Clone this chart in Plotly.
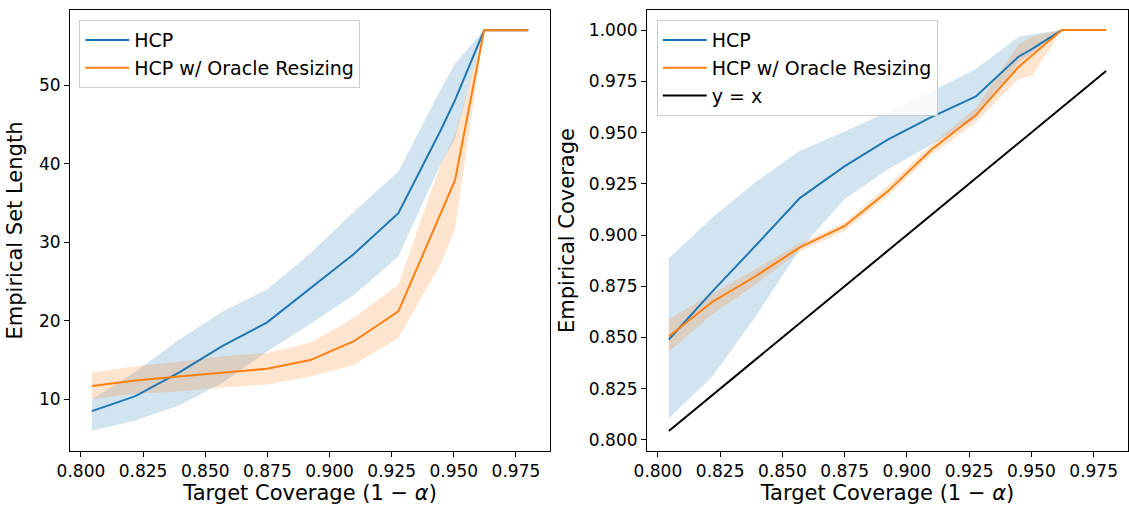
import plotly.graph_objects as go

# Target coverage levels (1 - alpha)
target = [0.8044, 0.8219, 0.8394, 0.8570, 0.8749, 0.8923, 0.9098, 0.9277, 0.9448, 0.9505, 0.9622, 0.9800]

# Empirical set length: mean and spread
len_hcp = [8.5, 10.4, 13.4, 16.8, 19.8, 24.1, 28.5, 33.7, 44.3, 48.1, 57.0, 57.0]
len_hcp_lo = [6.0, 7.3, 9.2, 12.1, 16.1, 19.6, 23.3, 28.2, 40.0, 43.2, 57.0, 57.0]
len_hcp_hi = [10.0, 13.5, 17.6, 21.2, 24.0, 28.6, 33.9, 39.0, 49.5, 52.8, 57.0, 57.0]
len_orc = [11.7, 12.4, 12.9, 13.4, 13.9, 15.0, 17.4, 21.2, 33.9, 37.9, 57.0, 57.0]
len_orc_lo = [10.0, 10.7, 11.0, 11.5, 11.9, 12.9, 14.4, 17.8, 27.3, 31.7, 57.0, 57.0]
len_orc_hi = [13.4, 14.2, 14.8, 15.5, 15.9, 17.2, 20.4, 24.6, 40.0, 43.6, 57.0, 57.0]

# Empirical coverage: mean and spread
cov_hcp = [0.849, 0.8725, 0.895, 0.918, 0.9335, 0.9465, 0.9575, 0.9676, 0.987, 0.991, 1.0, 1.0]
cov_hcp_lo = [0.8106, 0.831, 0.8605, 0.893, 0.9175, 0.932, 0.944, 0.957, 0.984, 0.989, 1.0, 1.0]
cov_hcp_hi = [0.8886, 0.9085, 0.926, 0.941, 0.9505, 0.960, 0.970, 0.981, 0.9967, 0.998, 1.0, 1.0]
cov_orc = [0.8505, 0.8674, 0.880, 0.894, 0.9043, 0.9213, 0.9416, 0.9585, 0.982, 0.988, 1.0, 1.0]
cov_orc_lo = [0.843, 0.8614, 0.876, 0.892, 0.902, 0.919, 0.939, 0.955, 0.976, 0.978, 1.0, 1.0]
cov_orc_hi = [0.859, 0.8713, 0.884, 0.896, 0.906, 0.924, 0.944, 0.962, 0.993, 0.997, 1.0, 1.0]

x_ticks = [0.800, 0.825, 0.850, 0.875, 0.900, 0.925, 0.950, 0.975]
len_ticks = [10, 20, 30, 40, 50]
cov_ticks = [0.800, 0.825, 0.850, 0.875, 0.900, 0.925, 0.950, 0.975, 1.000]

BLUE = "#1f77b4"
ORANGE = "#ff7f0e"
BLUE_FILL = "rgba(31,119,180,0.2)"
ORANGE_FILL = "rgba(255,127,14,0.2)"
FONT = "DejaVu Sans"

fig = go.Figure()


def band(x, lo, hi, color, xa, ya):
    fig.add_trace(go.Scatter(x=x, y=hi, mode="lines", line=dict(width=0),
                             showlegend=False, hoverinfo="skip", xaxis=xa, yaxis=ya))
    fig.add_trace(go.Scatter(x=x, y=lo, mode="lines", line=dict(width=0),
                             fill="tonexty", fillcolor=color, showlegend=False,
                             hoverinfo="skip", xaxis=xa, yaxis=ya))


# Left panel: set length
band(target, len_hcp_lo, len_hcp_hi, BLUE_FILL, "x", "y")
band(target, len_orc_lo, len_orc_hi, ORANGE_FILL, "x", "y")
fig.add_trace(go.Scatter(x=target, y=len_hcp, mode="lines", name="HCP",
                         line=dict(color=BLUE, width=2), xaxis="x", yaxis="y", legend="legend"))
fig.add_trace(go.Scatter(x=target, y=len_orc, mode="lines", name="HCP w/ Oracle Resizing",
                         line=dict(color=ORANGE, width=2), xaxis="x", yaxis="y", legend="legend"))

# Right panel: coverage
band(target, cov_hcp_lo, cov_hcp_hi, BLUE_FILL, "x2", "y2")
band(target, cov_orc_lo, cov_orc_hi, ORANGE_FILL, "x2", "y2")
fig.add_trace(go.Scatter(x=target, y=cov_hcp, mode="lines", name="HCP",
                         line=dict(color=BLUE, width=2), xaxis="x2", yaxis="y2", legend="legend2"))
fig.add_trace(go.Scatter(x=target, y=cov_orc, mode="lines", name="HCP w/ Oracle Resizing",
                         line=dict(color=ORANGE, width=2), xaxis="x2", yaxis="y2", legend="legend2"))
fig.add_trace(go.Scatter(x=target, y=target, mode="lines", name="y = x",
                         line=dict(color="black", width=2), xaxis="x2", yaxis="y2", legend="legend2"))

axis_common = dict(
    showline=True, linecolor="black", linewidth=1, mirror=True,
    ticks="outside", ticklen=5, tickwidth=1, tickcolor="black",
    showgrid=False, zeroline=False,
    tickfont=dict(family=FONT, size=17, color="black"),
)
title_font = dict(family=FONT, size=21, color="black")
x_title = "Target Coverage (1 − <i>α</i>)"

legend_style = dict(
    bgcolor="rgba(255,255,255,0.8)", bordercolor="#cccccc", borderwidth=1,
    font=dict(family=FONT, size=19, color="black"),
    xanchor="left", yanchor="top", traceorder="normal", itemwidth=44,
)

fig.update_layout(
    width=1129, height=505,
    margin=dict(l=70, r=1, t=10, b=54),
    paper_bgcolor="white", plot_bgcolor="white",
    font=dict(family=FONT, color="black"),
    xaxis=dict(domain=[0.0, 0.4539], range=[0.7956, 0.9888], anchor="y",
               tickvals=x_ticks, tickformat=".3f",
               title=dict(text=x_title, font=title_font, standoff=6), **axis_common),
    yaxis=dict(domain=[0, 1], range=[3.42, 59.58], anchor="x", tickvals=len_ticks,
               title=dict(text="Empirical Set Length", font=title_font, standoff=10), **axis_common),
    xaxis2=dict(domain=[0.5453, 1.0], range=[0.7956, 0.9888], anchor="y2",
                tickvals=x_ticks, tickformat=".3f",
                title=dict(text=x_title, font=title_font, standoff=6), **axis_common),
    yaxis2=dict(domain=[0, 1], range=[0.7946, 1.0098], anchor="x2",
                tickvals=cov_ticks, tickformat=".3f",
                title=dict(text="Empirical Coverage", font=title_font, standoff=8), **axis_common),
    legend=dict(x=0.0088, y=0.977, **legend_style),
    legend2=dict(x=0.5546, y=0.977, **legend_style),
)

fig.write_html("out.html")
